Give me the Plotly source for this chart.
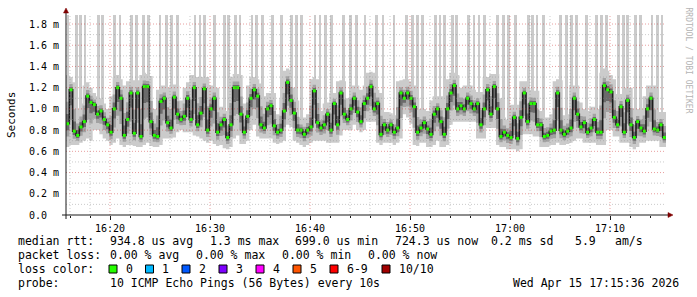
import datetime as dt
import plotly.graph_objects as go

# ---------------- data ----------------
START = dt.datetime(2026, 4, 15, 16, 15, 36)
STEP_S = 20  # seconds per sample in this reconstruction

median_ms = [
    0.86, 1.18, 0.79, 0.75, 0.83, 0.88, 1.12, 1.06, 1.04, 0.95, 0.98, 0.90, 0.85, 0.78, 1.00, 1.20, 1.10, 0.75,
    0.90, 1.15, 0.77, 1.15, 0.74, 1.21, 1.21, 0.88, 0.75, 0.74, 1.07, 1.10, 0.87, 0.82, 1.11, 0.95, 0.90, 0.93,
    1.10, 0.90, 1.20, 0.85, 0.96, 1.19, 0.80, 1.00, 1.10, 0.78, 0.85, 0.90, 0.73, 0.85, 1.20, 1.20, 0.95, 0.78,
    0.93, 1.10, 1.18, 1.12, 0.85, 0.82, 1.00, 1.03, 0.84, 0.78, 0.80, 0.98, 1.25, 1.08, 0.96, 0.80, 0.80, 0.76,
    0.80, 0.83, 1.17, 0.87, 0.82, 0.85, 0.95, 0.80, 1.05, 0.85, 1.15, 0.95, 0.90, 1.00, 1.10, 0.97, 0.88, 1.05,
    1.10, 1.21, 1.00, 1.05, 0.76, 0.85, 0.80, 0.85, 0.78, 0.82, 1.15, 1.10, 1.15, 1.10, 1.02, 0.78, 0.82, 0.87,
    0.81, 0.76, 0.95, 1.00, 0.88, 0.76, 1.00, 1.15, 1.22, 1.00, 1.03, 1.00, 1.10, 1.05, 1.00, 1.05, 0.85, 1.00,
    1.18, 0.95, 1.21, 1.00, 0.74, 0.78, 0.75, 0.73, 0.92, 0.72, 0.92, 1.15, 0.88, 1.05, 1.05, 0.85, 0.85, 0.74,
    0.75, 0.79, 0.80, 1.15, 0.80, 0.76, 0.79, 0.82, 1.10, 0.95, 0.83, 0.87, 0.78, 0.82, 0.90, 0.78, 0.78, 1.22,
    1.18, 1.16, 0.92, 0.85, 1.02, 0.78, 1.08, 0.85, 0.73, 0.88, 0.82, 0.79, 1.00, 1.10, 0.81, 0.80, 0.85, 0.73,
]

smoke_lo_ms = [
    0.64, 0.66, 0.66, 0.66, 0.68, 0.70, 0.72, 0.70, 0.80, 0.80, 0.76, 0.72, 0.70, 0.66, 0.68, 0.72, 0.66, 0.64,
    0.66, 0.66, 0.65, 0.64, 0.64, 0.66, 0.68, 0.65, 0.64, 0.64, 0.66, 0.72, 0.72, 0.72, 0.73, 0.78, 0.80, 0.78,
    0.78, 0.78, 0.75, 0.74, 0.72, 0.70, 0.68, 0.70, 0.67, 0.65, 0.66, 0.63, 0.62, 0.64, 0.72, 0.75, 0.67, 0.67,
    0.70, 0.80, 0.85, 0.74, 0.72, 0.72, 0.72, 0.72, 0.68, 0.67, 0.68, 0.70, 0.85, 0.83, 0.70, 0.68, 0.66, 0.64,
    0.66, 0.68, 0.70, 0.70, 0.70, 0.70, 0.68, 0.68, 0.68, 0.68, 0.75, 0.80, 0.80, 0.80, 0.85, 0.80, 0.78, 0.80,
    0.88, 0.88, 0.88, 0.68, 0.66, 0.68, 0.68, 0.68, 0.66, 0.68, 0.72, 0.95, 0.92, 0.86, 0.66, 0.65, 0.68, 0.68,
    0.64, 0.64, 0.66, 0.70, 0.64, 0.64, 0.66, 0.85, 0.88, 0.88, 0.88, 0.88, 0.88, 0.88, 0.88, 0.72, 0.72, 0.72,
    0.82, 0.82, 0.82, 0.66, 0.64, 0.64, 0.62, 0.62, 0.62, 0.60, 0.62, 0.76, 0.76, 0.76, 0.74, 0.74, 0.64, 0.64,
    0.64, 0.66, 0.66, 0.68, 0.66, 0.66, 0.67, 0.68, 0.70, 0.72, 0.72, 0.68, 0.68, 0.68, 0.68, 0.66, 0.66, 0.66,
    0.80, 0.80, 0.74, 0.74, 0.68, 0.68, 0.68, 0.64, 0.62, 0.64, 0.68, 0.68, 0.70, 0.70, 0.70, 0.70, 0.64, 0.64,
]

smoke_hi_ms = [
    1.32, 1.30, 1.25, 1.00, 1.05, 1.22, 1.25, 1.20, 1.15, 1.12, 1.10, 1.05, 1.00, 1.12, 1.30, 1.32, 1.28, 1.22,
    1.26, 1.28, 1.27, 1.27, 1.32, 1.34, 1.33, 1.31, 1.00, 1.18, 1.22, 1.22, 1.20, 1.22, 1.23, 1.22, 1.08, 1.20,
    1.25, 1.32, 1.32, 1.30, 1.30, 1.30, 1.30, 1.22, 1.22, 1.20, 1.02, 1.02, 0.98, 1.30, 1.33, 1.33, 1.32, 1.05,
    1.22, 1.30, 1.30, 1.28, 1.24, 1.12, 1.15, 1.15, 1.15, 0.95, 1.10, 1.36, 1.38, 1.36, 1.20, 1.08, 0.92, 0.92,
    0.95, 1.28, 1.30, 1.28, 0.98, 1.05, 1.06, 1.15, 1.15, 1.26, 1.27, 1.26, 1.10, 1.22, 1.22, 1.22, 1.18, 1.22,
    1.34, 1.35, 1.34, 1.18, 1.15, 0.97, 0.97, 0.96, 0.94, 1.26, 1.27, 1.28, 1.28, 1.26, 1.22, 1.10, 1.00, 1.00,
    0.98, 1.08, 1.12, 1.12, 1.12, 1.12, 1.28, 1.34, 1.34, 1.32, 1.20, 1.22, 1.22, 1.22, 1.18, 1.16, 1.16, 1.30,
    1.30, 1.33, 1.33, 1.33, 1.10, 0.92, 0.90, 1.04, 1.04, 1.04, 1.26, 1.26, 1.26, 1.18, 1.17, 1.17, 0.98, 0.92,
    0.92, 0.95, 1.26, 1.28, 1.27, 0.94, 0.95, 1.22, 1.22, 1.22, 1.06, 1.00, 0.98, 1.02, 1.02, 1.00, 1.34, 1.38,
    1.36, 1.32, 1.28, 1.14, 1.14, 1.20, 1.20, 1.20, 1.00, 1.00, 1.00, 1.12, 1.22, 1.22, 1.22, 0.97, 0.97, 0.97,
]

# seconds after START where the slowest ping went off the top of the chart
spike_t_s = [
    12, 61, 87, 114, 193, 221, 291, 324, 394, 423, 464, 494, 564, 602, 632, 670, 774, 804, 833, 891,
    951, 974, 1017, 1044, 1116, 1144, 1181, 1240, 1294, 1354, 1385, 1414, 1494, 1524, 1559, 1592, 1664,
    1709, 1742, 1794, 1865, 1902, 1968, 2045, 2081, 2110, 2141, 2218, 2244, 2272, 2318, 2345, 2415,
    2448, 2478, 2510, 2591, 2624, 2653, 2695, 2773, 2798, 2826, 2866, 2968, 3002, 3035, 3063, 3123,
    3181, 3211, 3241, 3314, 3344, 3370, 3418, 3449, 3516, 3548, 3576,
]

ytick_vals = [0.0, 0.2, 0.4, 0.6, 0.8, 1.0, 1.2, 1.4, 1.6, 1.8]
ytick_text = ["0.0\u00a0\u00a0", "0.2 m", "0.4 m", "0.6 m", "0.8 m", "1.0 m", "1.2 m", "1.4 m", "1.6 m", "1.8 m"]

loss_labels = ["0", "1", "2", "3", "4", "5", "6-9", "10/10"]
loss_colors = ["#26ff00", "#00b8ff", "#0059ff", "#7e00ff", "#ff00ff", "#ff5500", "#ff0000", "#a10000"]

stats_rtt = ["median rtt:", "934.8 us avg", "1.3 ms max", "699.0 us min", "724.3 us now", "0.2 ms sd", "5.9", "am/s"]
stats_loss = ["packet loss:", "0.00 % avg", "0.00 % max", "0.00 % min", "0.00 % now"]
probe_text = ["probe:", "10 ICMP Echo Pings (56 Bytes) every 10s"]
stamp_text = "Wed Apr 15 17:15:36 2026"

# ---------------- layout helpers ----------------
W, H = 697, 297
L, R, T, B = 66, 31, 15, 82
PW, PH = W - L - R, H - T - B
Y_TOP = 1.885
FONT = "DejaVu Sans Mono"
LEG_SIZE = 11.5


def px(xp):
    return (xp - L) / PW


def py(yp):
    return (H - B - yp) / PH


n = len(median_ms)
t_edges = [START + dt.timedelta(seconds=STEP_S * i) for i in range(n + 1)]
t_mid = [START + dt.timedelta(seconds=STEP_S * i + STEP_S / 2) for i in range(n)]
END = START + dt.timedelta(seconds=3600)


def ext(a):
    return list(a) + [a[-1]]


mid_lo = [m - 0.55 * (m - lo) for m, lo in zip(median_ms, smoke_lo_ms)]
mid_hi = [m + 0.45 * (hi - m) for m, hi in zip(median_ms, smoke_hi_ms)]
dk_lo = [m - 0.28 * (m - lo) for m, lo in zip(median_ms, smoke_lo_ms)]
dk_hi = [m + 0.2 * (hi - m) for m, hi in zip(median_ms, smoke_hi_ms)]

fig = go.Figure()

# spikes (max ping beyond chart top)
sp_x = [START + dt.timedelta(seconds=s) for s in spike_t_s]
sp_base = [median_ms[min(int(s // STEP_S), n - 1)] for s in spike_t_s]
fig.add_trace(go.Bar(x=sp_x, y=[Y_TOP + 0.5 - b for b in sp_base], base=sp_base,
                     width=[17000] * len(sp_x), marker=dict(color="#cbcbcb", line=dict(width=0)),
                     hoverinfo="skip"))


def band(lo, hi, color):
    fig.add_trace(go.Scatter(x=t_edges, y=ext(lo), mode="lines", line=dict(width=0, shape="hv"),
                             hoverinfo="skip"))
    fig.add_trace(go.Scatter(x=t_edges, y=ext(hi), mode="lines", line=dict(width=0, shape="hv"),
                             fill="tonexty", fillcolor=color, hoverinfo="skip"))


band(smoke_lo_ms, smoke_hi_ms, "#cbcbcb")
band(mid_lo, mid_hi, "#a2a2a2")
band(dk_lo, dk_hi, "#6a6a6a")

fig.add_trace(go.Scatter(x=t_edges, y=ext(median_ms), mode="lines",
                         line=dict(color="#1c1c1c", width=1.6, shape="hv"), hoverinfo="skip"))
fig.add_trace(go.Scatter(x=t_mid, y=median_ms, mode="markers",
                         marker=dict(symbol="square", size=3, color=loss_colors[0], line=dict(width=0)),
                         hoverinfo="skip"))

shapes = []
# horizontal grid
minor_c = "rgba(140,140,140,0.45)"
major_c = "rgba(205,40,40,0.45)"
for k in range(1, 19):
    v = k / 10
    shapes.append(dict(type="line", xref="paper", yref="y", x0=0, x1=1, y0=v, y1=v, layer="above",
                       line=dict(color=major_c if k % 2 == 0 else minor_c, width=1, dash="1px,2px")))
# vertical grid
for m in range(2, 60, 2):
    tm = dt.datetime(2026, 4, 15, 16, 14) + dt.timedelta(minutes=m)
    if tm <= START or tm >= END:
        continue
    major = tm.minute % 10 == 0
    shapes.append(dict(type="line", xref="x", yref="paper", x0=tm, x1=tm, y0=0, y1=1, layer="above",
                       line=dict(color=major_c if major else minor_c, width=1, dash="1px,2px")))
# axes with arrows
ax_c = "#1a1a1a"
arrow_c = "#7f0000"
shapes.append(dict(type="line", xref="paper", yref="paper", x0=px(62), x1=px(670), y0=0, y1=0,
                   layer="above", line=dict(color=ax_c, width=1)))
shapes.append(dict(type="line", xref="paper", yref="paper", x0=0, x1=0, y0=py(219), y1=py(11),
                   layer="above", line=dict(color=ax_c, width=1)))
shapes.append(dict(type="path", xref="paper", yref="paper", layer="above",
                   path=f"M {px(668)} {py(212.5)} L {px(673)} {py(215)} L {px(668)} {py(217.5)} Z",
                   fillcolor=arrow_c, line=dict(color=arrow_c, width=0.5)))
shapes.append(dict(type="path", xref="paper", yref="paper", layer="above",
                   path=f"M {px(63.5)} {py(13)} L {px(66)} {py(8)} L {px(68.5)} {py(13)} Z",
                   fillcolor=arrow_c, line=dict(color=arrow_c, width=0.5)))

annotations = []


def text(x, y, s, anchor="left", size=LEG_SIZE, color="#000000", angle=0, yanchor="middle"):
    annotations.append(dict(xref="paper", yref="paper", x=px(x), y=py(y), text=s, showarrow=False,
                            xanchor=anchor, yanchor=yanchor, textangle=angle,
                            font=dict(family=FONT, size=size, color=color)))


text(11, 115, "Seconds", anchor="center", angle=-90, size=11)
text(687.5, 5, "RRDTOOL / TOBI OETIKER", anchor="center", size=8, color="#b4b4b4", angle=90, yanchor="top")

row1_x = [16.4, 107.6, 207.6, 293, 393.3, 489.3, 572.7, 613.3]
for xx, s in zip(row1_x, stats_rtt):
    text(xx, 241, s)
row2_x = [16.4, 107.6, 194, 280, 366]
for xx, s in zip(row2_x, stats_loss):
    text(xx, 255, s)
text(16.4, 269, "loss color:")
box_x = [109, 145.5, 182, 219, 256, 293, 330, 382]
for bx, lab, col in zip(box_x, loss_labels, loss_colors):
    shapes.append(dict(type="rect", xref="paper", yref="paper", x0=px(bx), x1=px(bx + 8),
                       y0=py(273), y1=py(265), fillcolor=col, line=dict(color="#000000", width=1)))
    text(bx + 14.6, 269, lab)
text(16.4, 283, probe_text[0])
text(107.6, 283, probe_text[1])
text(680.5, 283, stamp_text, anchor="right")

fig.update_layout(
    width=W, height=H, margin=dict(l=L, r=R, t=T, b=B, pad=0),
    paper_bgcolor="#ffffff", plot_bgcolor="#ffffff", showlegend=False,
    barmode="overlay", bargap=0,
    shapes=shapes, annotations=annotations,
    font=dict(family=FONT, color="#000000"),
    xaxis=dict(type="date", range=[START, END], showgrid=False, zeroline=False, showline=False,
               ticks="outside", ticklen=4, tickcolor=ax_c, tickwidth=1,
               tick0="2026-04-15 16:20:00", dtick=600000, tickformat="%H:%M",
               tickfont=dict(family=FONT, size=10, color="#000000"),
               minor=dict(tick0="2026-04-15 16:16:00", dtick=120000, ticks="outside", ticklen=2,
                          tickcolor=ax_c, showgrid=False)),
    yaxis=dict(range=[0, Y_TOP], showgrid=False, zeroline=False, showline=False,
               tickmode="array", tickvals=ytick_vals, ticktext=ytick_text, ticks="",
               ticklabelstandoff=6, tickfont=dict(family=FONT, size=10, color="#000000")),
)

fig.write_html("out.html")
